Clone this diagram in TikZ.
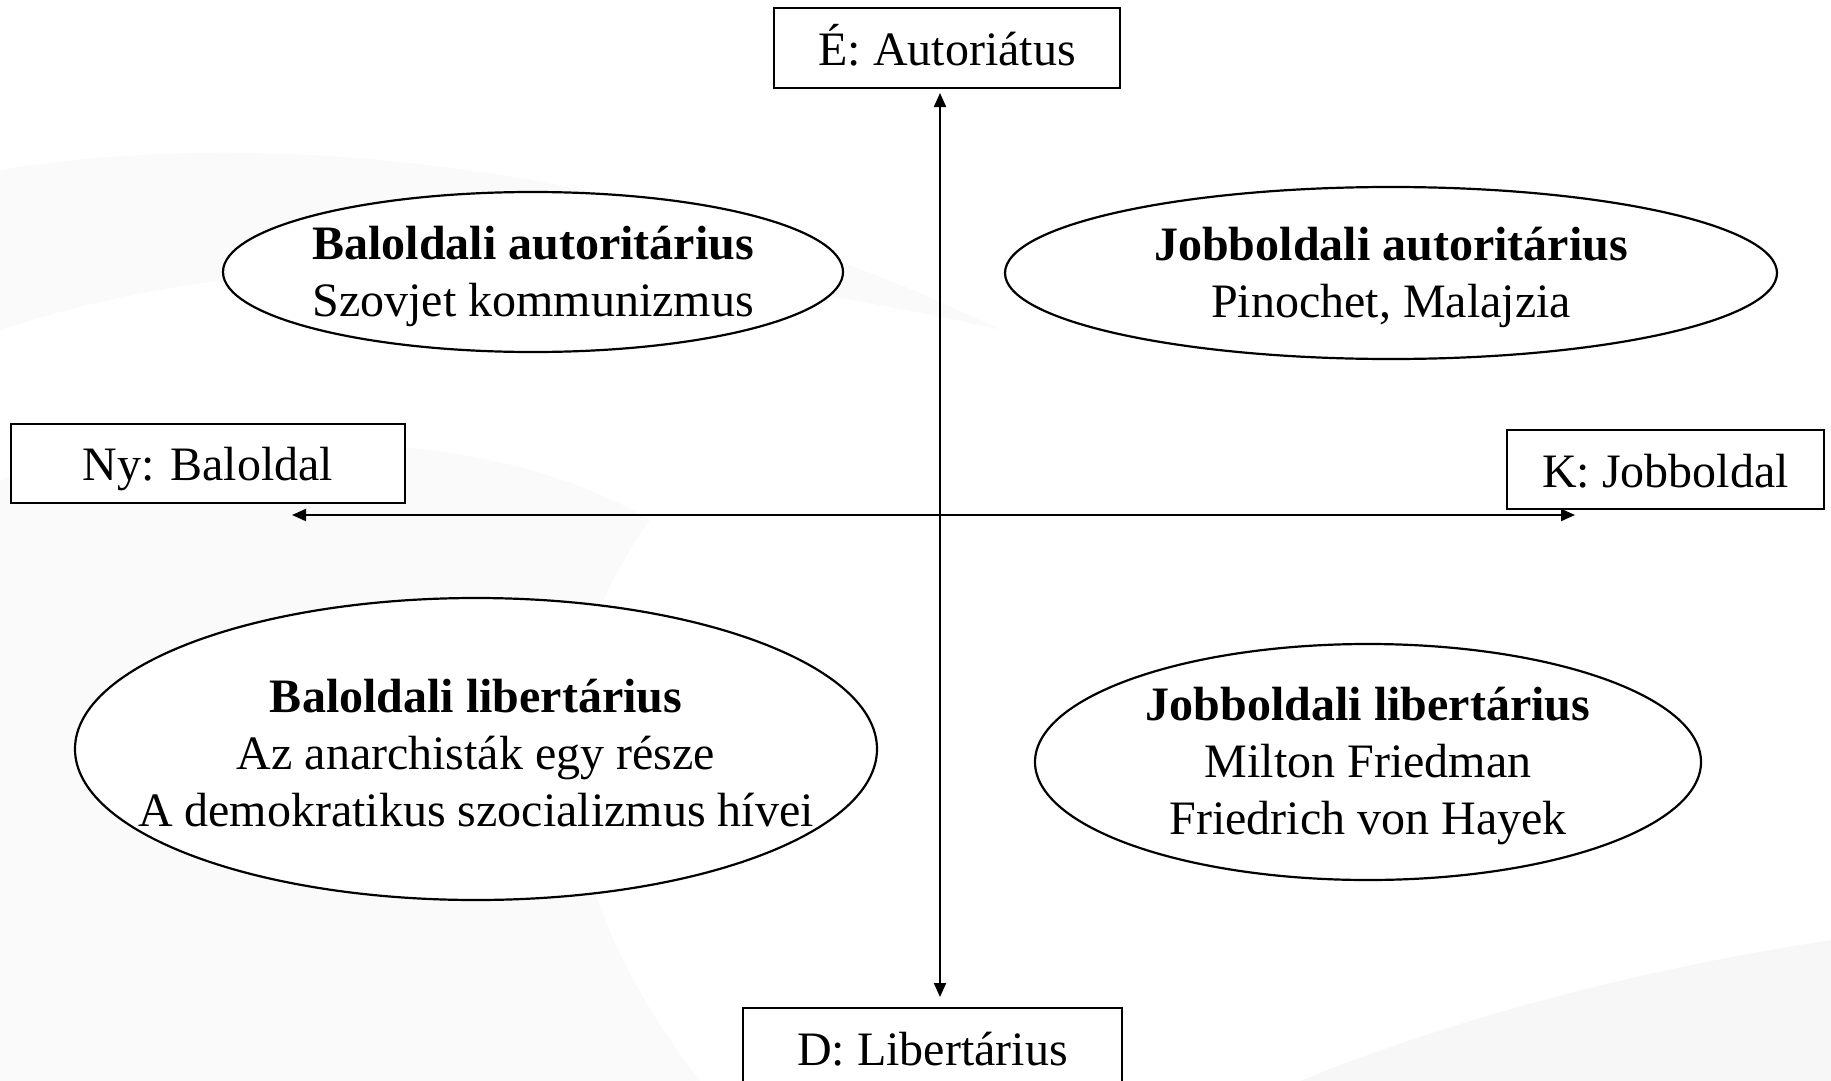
\documentclass[tikz,border=0pt]{standalone}
\usepackage{fontspec}
\setmainfont{Liberation Serif}
\usetikzlibrary{shapes.geometric,arrows.meta}
\begin{document}
\begin{tikzpicture}[x=1pt,y=-1pt,
  every node/.style={font=\fontsize{48}{57}\selectfont, align=center},
  axisbox/.style={draw, line width=2pt, fill=white, minimum height=79pt, inner sep=0pt, text height=45pt, text depth=10pt},
  quad/.style={draw, ellipse, line width=2.2pt, fill=white, inner sep=0pt},
  quadtext/.style={inner sep=0pt, yshift=-4pt},
  axisline/.style={line width=2pt, {Triangle[length=14pt,width=12pt]}-{Triangle[length=14pt,width=12pt]}}
]
\useasboundingbox (0,0) rectangle (1831,1081);
% faint background swooshes
\fill[black!2] (0,170) .. controls (300,120) and (700,180) .. (1000,330)
  .. controls (700,260) and (300,230) .. (0,330) -- cycle;
\fill[black!2] (0,480) .. controls (250,420) and (500,430) .. (650,520)
  .. controls (520,700) and (560,900) .. (700,1081) -- (0,1081) -- cycle;
\fill[black!3] (1300,1081) .. controls (1500,1000) and (1700,960) .. (1831,940) -- (1831,1081) -- cycle;
% axis boxes
\node[axisbox, minimum width=346pt] (N) at (947,48) {É: Autoriátus};
\node[axisbox, minimum width=394pt] (W) at (208,463) {Ny: Baloldal};
\node[axisbox, minimum width=317pt] (E) at (1665.5,469.5) {K: Jobboldal};
\node[axisbox, minimum width=379pt, minimum height=80pt] (S) at (932.5,1048) {D: Libertárius};
% axes
\coordinate (top) at (940,93);
\coordinate (bot) at (940,997);
\coordinate (lft) at (292,515);
\coordinate (rgt) at (1575,515);
\draw[axisline] (top) -- (bot);
\draw[axisline] (lft) -- (rgt);
% quadrant ellipses
\node[quad, minimum width=620pt, minimum height=160pt] (LA) at (533,272) {};
\node[quadtext] (LAt) at (LA.center) {\textbf{Baloldali autoritárius}\\Szovjet kommunizmus};
\node[quad, minimum width=772pt, minimum height=172pt] (RA) at (1391,273) {};
\node[quadtext] (RAt) at (RA.center) {\textbf{Jobboldali autoritárius}\\Pinochet, Malajzia};
\node[quad, minimum width=802pt, minimum height=302pt] (LL) at (476,749) {};
\node[quadtext] (LLt) at (LL.center) {\textbf{Baloldali libertárius}\\Az anarchisták egy része\\A demokratikus szocializmus hívei};
\node[quad, minimum width=666pt, minimum height=236pt] (RL) at (1368,762) {};
\node[quadtext] (RLt) at (RL.center) {\textbf{Jobboldali libertárius}\\Milton Friedman\\Friedrich von Hayek};
\end{tikzpicture}
\end{document}
